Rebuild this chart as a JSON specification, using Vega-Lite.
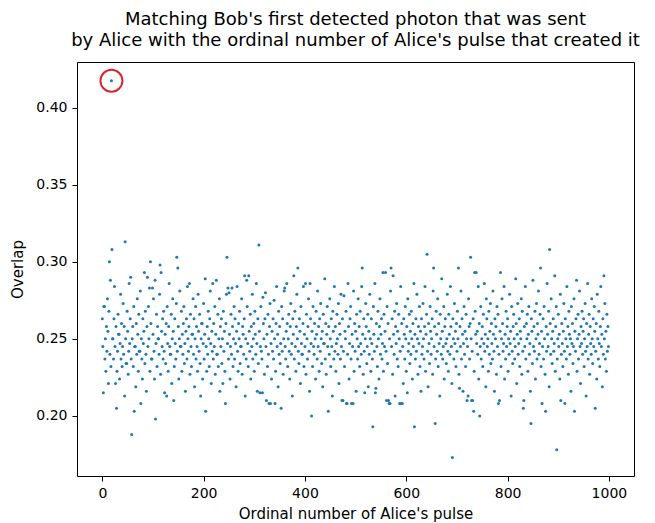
{
"$schema": "https://vega.github.io/schema/vega-lite/v6.json",
"autosize": {"type": "none"},
"padding": {"left": 77, "top": 62, "right": 21, "bottom": 47},
"width": 557,
"height": 414,
"background": "white",
"title": {"text": ["Matching Bob's first detected photon that was sent", "by Alice with the ordinal number of Alice's pulse that created it"], "font": "DejaVu Sans", "fontSize": 18, "fontWeight": "normal", "color": "black", "anchor": "middle", "frame": "group", "offset": 12, "lineHeight": 21},
"config": {
"view": {"stroke": "black", "strokeWidth": 1},
"axis": {"domain": false, "grid": false, "tickColor": "black", "tickSize": 5, "tickWidth": 1, "labelPadding": 5, "labelFont": "DejaVu Sans", "labelFontSize": 14, "labelColor": "black", "titleFont": "DejaVu Sans", "titleFontSize": 15, "titleFontWeight": "normal", "titleColor": "black"}
},
"data": {"values": [
{"x":0,"y":0.263},{"x":1,"y":0.245},{"x":2,"y":0.215},{"x":3,"y":0.271},{"x":4,"y":0.271},{"x":5,"y":0.237},{"x":6,"y":0.250},{"x":7,"y":0.229},{"x":8,"y":0.258},{"x":9,"y":0.242},
{"x":10,"y":0.276},{"x":11,"y":0.255},{"x":12,"y":0.221},{"x":13,"y":0.268},{"x":14,"y":0.300},{"x":15,"y":0.240},{"x":16,"y":0.288},{"x":17,"y":0.232},{"x":18,"y":0.4175},{"x":19,"y":0.308},
{"x":20,"y":0.250},{"x":21,"y":0.250},{"x":22,"y":0.237},{"x":23,"y":0.263},{"x":24,"y":0.284},{"x":25,"y":0.245},{"x":26,"y":0.221},{"x":27,"y":0.258},{"x":28,"y":0.205},{"x":29,"y":0.229},
{"x":30,"y":0.242},{"x":31,"y":0.266},{"x":32,"y":0.253},{"x":33,"y":0.253},{"x":34,"y":0.224},{"x":35,"y":0.247},{"x":36,"y":0.279},{"x":37,"y":0.237},{"x":38,"y":0.260},{"x":39,"y":0.232},
{"x":40,"y":0.245},{"x":41,"y":0.273},{"x":42,"y":0.240},{"x":43,"y":0.258},{"x":44,"y":0.213},{"x":45,"y":0.313},{"x":46,"y":0.250},{"x":47,"y":0.234},{"x":48,"y":0.234},{"x":49,"y":0.268},
{"x":50,"y":0.255},{"x":51,"y":0.227},{"x":52,"y":0.242},{"x":53,"y":0.286},{"x":54,"y":0.247},{"x":55,"y":0.263},{"x":56,"y":0.290},{"x":57,"y":0.237},{"x":58,"y":0.188},{"x":59,"y":0.250},
{"x":60,"y":0.258},{"x":61,"y":0.232},{"x":62,"y":0.271},{"x":63,"y":0.203},{"x":64,"y":0.245},{"x":65,"y":0.245},{"x":66,"y":0.219},{"x":67,"y":0.260},{"x":68,"y":0.240},{"x":69,"y":0.276},
{"x":70,"y":0.253},{"x":71,"y":0.229},{"x":72,"y":0.266},{"x":73,"y":0.242},{"x":74,"y":0.242},{"x":75,"y":0.281},{"x":76,"y":0.208},{"x":77,"y":0.250},{"x":78,"y":0.237},{"x":79,"y":0.224},
{"x":80,"y":0.263},{"x":81,"y":0.247},{"x":82,"y":0.255},{"x":83,"y":0.293},{"x":84,"y":0.234},{"x":85,"y":0.268},{"x":86,"y":0.240},{"x":87,"y":0.216},{"x":88,"y":0.258},{"x":89,"y":0.290},
{"x":90,"y":0.245},{"x":91,"y":0.271},{"x":92,"y":0.250},{"x":93,"y":0.283},{"x":94,"y":0.229},{"x":95,"y":0.300},{"x":96,"y":0.260},{"x":97,"y":0.237},{"x":98,"y":0.237},{"x":99,"y":0.283},
{"x":100,"y":0.253},{"x":101,"y":0.276},{"x":102,"y":0.242},{"x":103,"y":0.224},{"x":104,"y":0.288},{"x":105,"y":0.198},{"x":106,"y":0.247},{"x":107,"y":0.266},{"x":108,"y":0.232},{"x":109,"y":0.258},
{"x":110,"y":0.250},{"x":111,"y":0.250},{"x":112,"y":0.240},{"x":113,"y":0.279},{"x":114,"y":0.298},{"x":115,"y":0.227},{"x":116,"y":0.293},{"x":117,"y":0.255},{"x":118,"y":0.245},{"x":119,"y":0.263},
{"x":120,"y":0.237},{"x":121,"y":0.268},{"x":122,"y":0.242},{"x":123,"y":0.215},{"x":124,"y":0.253},{"x":125,"y":0.234},{"x":126,"y":0.260},{"x":127,"y":0.213},{"x":128,"y":0.271},{"x":129,"y":0.247},
{"x":130,"y":0.229},{"x":131,"y":0.258},{"x":132,"y":0.286},{"x":133,"y":0.245},{"x":134,"y":0.240},{"x":135,"y":0.240},{"x":136,"y":0.266},{"x":137,"y":0.221},{"x":138,"y":0.250},{"x":139,"y":0.276},
{"x":140,"y":0.255},{"x":141,"y":0.210},{"x":142,"y":0.232},{"x":143,"y":0.263},{"x":144,"y":0.247},{"x":145,"y":0.237},{"x":146,"y":0.273},{"x":147,"y":0.303},{"x":148,"y":0.242},{"x":149,"y":0.296},
{"x":150,"y":0.258},{"x":151,"y":0.224},{"x":152,"y":0.250},{"x":153,"y":0.281},{"x":154,"y":0.245},{"x":155,"y":0.245},{"x":156,"y":0.268},{"x":157,"y":0.229},{"x":158,"y":0.253},{"x":159,"y":0.240},
{"x":160,"y":0.260},{"x":161,"y":0.271},{"x":162,"y":0.234},{"x":163,"y":0.247},{"x":164,"y":0.216},{"x":165,"y":0.255},{"x":166,"y":0.263},{"x":167,"y":0.237},{"x":168,"y":0.284},{"x":169,"y":0.250},
{"x":170,"y":0.242},{"x":171,"y":0.258},{"x":172,"y":0.286},{"x":173,"y":0.227},{"x":174,"y":0.266},{"x":175,"y":0.245},{"x":176,"y":0.232},{"x":177,"y":0.253},{"x":178,"y":0.253},{"x":179,"y":0.276},
{"x":180,"y":0.240},{"x":181,"y":0.263},{"x":182,"y":0.219},{"x":183,"y":0.250},{"x":184,"y":0.271},{"x":185,"y":0.237},{"x":186,"y":0.258},{"x":187,"y":0.245},{"x":188,"y":0.229},{"x":189,"y":0.279},
{"x":190,"y":0.255},{"x":191,"y":0.242},{"x":192,"y":0.266},{"x":193,"y":0.234},{"x":194,"y":0.213},{"x":195,"y":0.250},{"x":196,"y":0.260},{"x":197,"y":0.260},{"x":198,"y":0.224},{"x":199,"y":0.247},
{"x":200,"y":0.273},{"x":201,"y":0.237},{"x":202,"y":0.253},{"x":203,"y":0.289},{"x":204,"y":0.203},{"x":205,"y":0.245},{"x":206,"y":0.229},{"x":207,"y":0.258},{"x":208,"y":0.240},{"x":209,"y":0.268},
{"x":210,"y":0.250},{"x":211,"y":0.232},{"x":212,"y":0.263},{"x":213,"y":0.281},{"x":214,"y":0.247},{"x":215,"y":0.221},{"x":216,"y":0.255},{"x":217,"y":0.242},{"x":218,"y":0.286},{"x":219,"y":0.237},
{"x":220,"y":0.260},{"x":221,"y":0.245},{"x":222,"y":0.271},{"x":223,"y":0.227},{"x":224,"y":0.253},{"x":225,"y":0.288},{"x":226,"y":0.240},{"x":227,"y":0.240},{"x":228,"y":0.266},{"x":229,"y":0.232},
{"x":230,"y":0.250},{"x":231,"y":0.276},{"x":232,"y":0.216},{"x":233,"y":0.258},{"x":234,"y":0.245},{"x":235,"y":0.263},{"x":236,"y":0.234},{"x":237,"y":0.250},{"x":238,"y":0.221},{"x":239,"y":0.268},
{"x":240,"y":0.242},{"x":241,"y":0.255},{"x":242,"y":0.229},{"x":243,"y":0.208},{"x":244,"y":0.260},{"x":245,"y":0.279},{"x":246,"y":0.303},{"x":247,"y":0.247},{"x":248,"y":0.283},{"x":249,"y":0.237},
{"x":250,"y":0.280},{"x":251,"y":0.253},{"x":252,"y":0.224},{"x":253,"y":0.245},{"x":254,"y":0.266},{"x":255,"y":0.240},{"x":256,"y":0.283},{"x":257,"y":0.258},{"x":258,"y":0.232},{"x":259,"y":0.250},
{"x":260,"y":0.271},{"x":261,"y":0.237},{"x":262,"y":0.263},{"x":263,"y":0.247},{"x":264,"y":0.219},{"x":265,"y":0.255},{"x":266,"y":0.284},{"x":267,"y":0.242},{"x":268,"y":0.229},{"x":269,"y":0.260},
{"x":270,"y":0.250},{"x":271,"y":0.268},{"x":272,"y":0.234},{"x":273,"y":0.245},{"x":274,"y":0.245},{"x":275,"y":0.276},{"x":276,"y":0.227},{"x":277,"y":0.258},{"x":278,"y":0.253},{"x":279,"y":0.240},
{"x":280,"y":0.263},{"x":281,"y":0.291},{"x":282,"y":0.213},{"x":283,"y":0.250},{"x":284,"y":0.237},{"x":285,"y":0.288},{"x":286,"y":0.271},{"x":287,"y":0.247},{"x":288,"y":0.232},{"x":289,"y":0.291},
{"x":290,"y":0.255},{"x":291,"y":0.242},{"x":292,"y":0.266},{"x":293,"y":0.224},{"x":294,"y":0.258},{"x":295,"y":0.245},{"x":296,"y":0.279},{"x":297,"y":0.237},{"x":298,"y":0.250},{"x":299,"y":0.260},
{"x":300,"y":0.229},{"x":301,"y":0.268},{"x":302,"y":0.253},{"x":303,"y":0.240},{"x":304,"y":0.286},{"x":305,"y":0.247},{"x":306,"y":0.216},{"x":307,"y":0.263},{"x":308,"y":0.234},{"x":309,"y":0.311},
{"x":310,"y":0.255},{"x":311,"y":0.215},{"x":312,"y":0.245},{"x":313,"y":0.271},{"x":314,"y":0.242},{"x":315,"y":0.237},{"x":316,"y":0.215},{"x":317,"y":0.277},{"x":318,"y":0.260},{"x":319,"y":0.250},
{"x":320,"y":0.227},{"x":321,"y":0.263},{"x":322,"y":0.280},{"x":323,"y":0.245},{"x":324,"y":0.210},{"x":325,"y":0.253},{"x":326,"y":0.232},{"x":327,"y":0.266},{"x":328,"y":0.240},{"x":329,"y":0.208},
{"x":330,"y":0.258},{"x":331,"y":0.273},{"x":332,"y":0.208},{"x":333,"y":0.247},{"x":334,"y":0.224},{"x":335,"y":0.255},{"x":336,"y":0.242},{"x":337,"y":0.263},{"x":338,"y":0.237},{"x":339,"y":0.275},
{"x":340,"y":0.250},{"x":341,"y":0.208},{"x":342,"y":0.229},{"x":343,"y":0.260},{"x":344,"y":0.284},{"x":345,"y":0.245},{"x":346,"y":0.253},{"x":347,"y":0.219},{"x":348,"y":0.268},{"x":349,"y":0.240},
{"x":350,"y":0.258},{"x":351,"y":0.234},{"x":352,"y":0.247},{"x":353,"y":0.205},{"x":354,"y":0.271},{"x":355,"y":0.242},{"x":356,"y":0.263},{"x":357,"y":0.227},{"x":358,"y":0.250},{"x":359,"y":0.281},
{"x":360,"y":0.283},{"x":361,"y":0.245},{"x":362,"y":0.237},{"x":363,"y":0.255},{"x":364,"y":0.286},{"x":365,"y":0.260},{"x":366,"y":0.232},{"x":367,"y":0.250},{"x":368,"y":0.266},{"x":369,"y":0.242},
{"x":370,"y":0.224},{"x":371,"y":0.258},{"x":372,"y":0.273},{"x":373,"y":0.240},{"x":374,"y":0.247},{"x":375,"y":0.213},{"x":376,"y":0.263},{"x":377,"y":0.253},{"x":378,"y":0.291},{"x":379,"y":0.237},
{"x":380,"y":0.268},{"x":381,"y":0.245},{"x":382,"y":0.229},{"x":383,"y":0.258},{"x":384,"y":0.279},{"x":385,"y":0.250},{"x":386,"y":0.296},{"x":387,"y":0.242},{"x":388,"y":0.234},{"x":389,"y":0.263},
{"x":390,"y":0.255},{"x":391,"y":0.221},{"x":392,"y":0.271},{"x":393,"y":0.247},{"x":394,"y":0.240},{"x":395,"y":0.240},{"x":396,"y":0.260},{"x":397,"y":0.284},{"x":398,"y":0.232},{"x":399,"y":0.253},
{"x":400,"y":0.245},{"x":401,"y":0.286},{"x":402,"y":0.227},{"x":403,"y":0.266},{"x":404,"y":0.250},{"x":405,"y":0.237},{"x":406,"y":0.258},{"x":407,"y":0.276},{"x":408,"y":0.242},{"x":409,"y":0.216},
{"x":410,"y":0.286},{"x":411,"y":0.263},{"x":412,"y":0.247},{"x":413,"y":0.200},{"x":414,"y":0.255},{"x":415,"y":0.232},{"x":416,"y":0.271},{"x":417,"y":0.245},{"x":418,"y":0.240},{"x":419,"y":0.260},
{"x":420,"y":0.250},{"x":421,"y":0.224},{"x":422,"y":0.268},{"x":423,"y":0.253},{"x":424,"y":0.237},{"x":425,"y":0.281},{"x":426,"y":0.245},{"x":427,"y":0.258},{"x":428,"y":0.229},{"x":429,"y":0.263},
{"x":430,"y":0.242},{"x":431,"y":0.273},{"x":432,"y":0.250},{"x":433,"y":0.234},{"x":434,"y":0.255},{"x":435,"y":0.219},{"x":436,"y":0.266},{"x":437,"y":0.247},{"x":438,"y":0.247},{"x":439,"y":0.289},
{"x":440,"y":0.237},{"x":441,"y":0.260},{"x":442,"y":0.227},{"x":443,"y":0.253},{"x":444,"y":0.271},{"x":445,"y":0.245},{"x":446,"y":0.203},{"x":447,"y":0.258},{"x":448,"y":0.240},{"x":449,"y":0.276},
{"x":450,"y":0.250},{"x":451,"y":0.232},{"x":452,"y":0.263},{"x":453,"y":0.245},{"x":454,"y":0.213},{"x":455,"y":0.268},{"x":456,"y":0.255},{"x":457,"y":0.237},{"x":458,"y":0.284},{"x":459,"y":0.242},
{"x":460,"y":0.258},{"x":461,"y":0.229},{"x":462,"y":0.247},{"x":463,"y":0.266},{"x":464,"y":0.250},{"x":465,"y":0.240},{"x":466,"y":0.273},{"x":467,"y":0.221},{"x":468,"y":0.260},{"x":469,"y":0.253},
{"x":470,"y":0.237},{"x":471,"y":0.279},{"x":472,"y":0.245},{"x":473,"y":0.210},{"x":474,"y":0.263},{"x":475,"y":0.210},{"x":476,"y":0.242},{"x":477,"y":0.278},{"x":478,"y":0.232},{"x":479,"y":0.255},
{"x":480,"y":0.250},{"x":481,"y":0.268},{"x":482,"y":0.208},{"x":483,"y":0.208},{"x":484,"y":0.240},{"x":485,"y":0.286},{"x":486,"y":0.258},{"x":487,"y":0.224},{"x":488,"y":0.247},{"x":489,"y":0.263},
{"x":490,"y":0.271},{"x":491,"y":0.237},{"x":492,"y":0.208},{"x":493,"y":0.253},{"x":494,"y":0.245},{"x":495,"y":0.208},{"x":496,"y":0.281},{"x":497,"y":0.229},{"x":498,"y":0.260},{"x":499,"y":0.242},
{"x":500,"y":0.255},{"x":501,"y":0.216},{"x":502,"y":0.266},{"x":503,"y":0.250},{"x":504,"y":0.237},{"x":505,"y":0.276},{"x":506,"y":0.245},{"x":507,"y":0.258},{"x":508,"y":0.232},{"x":509,"y":0.268},
{"x":510,"y":0.247},{"x":511,"y":0.240},{"x":512,"y":0.284},{"x":513,"y":0.296},{"x":514,"y":0.253},{"x":515,"y":0.227},{"x":516,"y":0.263},{"x":517,"y":0.242},{"x":518,"y":0.215},{"x":519,"y":0.250},
{"x":520,"y":0.273},{"x":521,"y":0.258},{"x":522,"y":0.234},{"x":523,"y":0.245},{"x":524,"y":0.266},{"x":525,"y":0.219},{"x":526,"y":0.255},{"x":527,"y":0.240},{"x":528,"y":0.279},{"x":529,"y":0.250},
{"x":530,"y":0.229},{"x":531,"y":0.263},{"x":532,"y":0.247},{"x":533,"y":0.237},{"x":534,"y":0.193},{"x":535,"y":0.271},{"x":536,"y":0.253},{"x":537,"y":0.242},{"x":538,"y":0.286},{"x":539,"y":0.215},
{"x":540,"y":0.218},{"x":541,"y":0.260},{"x":542,"y":0.245},{"x":543,"y":0.232},{"x":544,"y":0.268},{"x":545,"y":0.250},{"x":546,"y":0.224},{"x":547,"y":0.258},{"x":548,"y":0.276},{"x":549,"y":0.240},
{"x":550,"y":0.253},{"x":551,"y":0.263},{"x":552,"y":0.237},{"x":553,"y":0.247},{"x":554,"y":0.293},{"x":555,"y":0.229},{"x":556,"y":0.266},{"x":557,"y":0.245},{"x":558,"y":0.255},{"x":559,"y":0.293},
{"x":560,"y":0.242},{"x":561,"y":0.210},{"x":562,"y":0.271},{"x":563,"y":0.234},{"x":564,"y":0.260},{"x":565,"y":0.210},{"x":566,"y":0.208},{"x":567,"y":0.250},{"x":568,"y":0.208},{"x":569,"y":0.281},
{"x":570,"y":0.296},{"x":571,"y":0.245},{"x":572,"y":0.263},{"x":573,"y":0.227},{"x":574,"y":0.291},{"x":575,"y":0.253},{"x":576,"y":0.240},{"x":577,"y":0.268},{"x":578,"y":0.213},{"x":579,"y":0.258},
{"x":580,"y":0.247},{"x":581,"y":0.273},{"x":582,"y":0.237},{"x":583,"y":0.255},{"x":584,"y":0.232},{"x":585,"y":0.266},{"x":586,"y":0.250},{"x":587,"y":0.208},{"x":588,"y":0.242},{"x":589,"y":0.284},
{"x":590,"y":0.208},{"x":591,"y":0.260},{"x":592,"y":0.208},{"x":593,"y":0.245},{"x":594,"y":0.221},{"x":595,"y":0.263},{"x":596,"y":0.253},{"x":597,"y":0.237},{"x":598,"y":0.271},{"x":599,"y":0.250},
{"x":600,"y":0.229},{"x":601,"y":0.258},{"x":602,"y":0.215},{"x":603,"y":0.276},{"x":604,"y":0.242},{"x":605,"y":0.247},{"x":606,"y":0.266},{"x":607,"y":0.234},{"x":608,"y":0.255},{"x":609,"y":0.240},
{"x":610,"y":0.268},{"x":611,"y":0.250},{"x":612,"y":0.224},{"x":613,"y":0.260},{"x":614,"y":0.245},{"x":615,"y":0.286},{"x":616,"y":0.193},{"x":617,"y":0.253},{"x":618,"y":0.237},{"x":619,"y":0.263},
{"x":620,"y":0.242},{"x":621,"y":0.279},{"x":622,"y":0.250},{"x":623,"y":0.227},{"x":624,"y":0.258},{"x":625,"y":0.247},{"x":626,"y":0.271},{"x":627,"y":0.232},{"x":628,"y":0.255},{"x":629,"y":0.216},
{"x":630,"y":0.263},{"x":631,"y":0.240},{"x":632,"y":0.245},{"x":633,"y":0.273},{"x":634,"y":0.250},{"x":635,"y":0.237},{"x":636,"y":0.258},{"x":637,"y":0.284},{"x":638,"y":0.229},{"x":639,"y":0.253},
{"x":640,"y":0.266},{"x":641,"y":0.305},{"x":642,"y":0.242},{"x":643,"y":0.219},{"x":644,"y":0.260},{"x":645,"y":0.247},{"x":646,"y":0.234},{"x":647,"y":0.271},{"x":648,"y":0.255},{"x":649,"y":0.240},
{"x":650,"y":0.250},{"x":651,"y":0.263},{"x":652,"y":0.227},{"x":653,"y":0.281},{"x":654,"y":0.296},{"x":655,"y":0.245},{"x":656,"y":0.258},{"x":657,"y":0.195},{"x":658,"y":0.237},{"x":659,"y":0.268},
{"x":660,"y":0.253},{"x":661,"y":0.242},{"x":662,"y":0.276},{"x":663,"y":0.232},{"x":664,"y":0.260},{"x":665,"y":0.247},{"x":666,"y":0.213},{"x":667,"y":0.266},{"x":668,"y":0.250},{"x":669,"y":0.240},
{"x":670,"y":0.289},{"x":671,"y":0.255},{"x":672,"y":0.237},{"x":673,"y":0.245},{"x":674,"y":0.271},{"x":675,"y":0.224},{"x":676,"y":0.258},{"x":677,"y":0.263},{"x":678,"y":0.247},{"x":679,"y":0.234},
{"x":680,"y":0.250},{"x":681,"y":0.279},{"x":682,"y":0.242},{"x":683,"y":0.229},{"x":684,"y":0.266},{"x":685,"y":0.253},{"x":686,"y":0.240},{"x":687,"y":0.284},{"x":688,"y":0.258},{"x":689,"y":0.245},
{"x":690,"y":0.221},{"x":691,"y":0.173},{"x":692,"y":0.263},{"x":693,"y":0.250},{"x":694,"y":0.237},{"x":695,"y":0.273},{"x":696,"y":0.247},{"x":697,"y":0.255},{"x":698,"y":0.232},{"x":699,"y":0.260},
{"x":700,"y":0.242},{"x":701,"y":0.268},{"x":702,"y":0.250},{"x":703,"y":0.296},{"x":704,"y":0.227},{"x":705,"y":0.218},{"x":706,"y":0.258},{"x":707,"y":0.245},{"x":708,"y":0.281},{"x":709,"y":0.237},
{"x":710,"y":0.263},{"x":711,"y":0.253},{"x":712,"y":0.216},{"x":713,"y":0.247},{"x":714,"y":0.271},{"x":715,"y":0.240},{"x":716,"y":0.255},{"x":717,"y":0.232},{"x":718,"y":0.266},{"x":719,"y":0.250},
{"x":720,"y":0.210},{"x":721,"y":0.245},{"x":722,"y":0.213},{"x":723,"y":0.276},{"x":724,"y":0.258},{"x":725,"y":0.237},{"x":726,"y":0.260},{"x":727,"y":0.303},{"x":728,"y":0.250},{"x":729,"y":0.210},
{"x":730,"y":0.242},{"x":731,"y":0.210},{"x":732,"y":0.263},{"x":733,"y":0.203},{"x":734,"y":0.229},{"x":735,"y":0.293},{"x":736,"y":0.268},{"x":737,"y":0.253},{"x":738,"y":0.293},{"x":739,"y":0.247},
{"x":740,"y":0.255},{"x":741,"y":0.240},{"x":742,"y":0.284},{"x":743,"y":0.224},{"x":744,"y":0.260},{"x":745,"y":0.200},{"x":746,"y":0.245},{"x":747,"y":0.271},{"x":748,"y":0.237},{"x":749,"y":0.250},
{"x":750,"y":0.258},{"x":751,"y":0.232},{"x":752,"y":0.266},{"x":753,"y":0.247},{"x":754,"y":0.286},{"x":755,"y":0.242},{"x":756,"y":0.253},{"x":757,"y":0.219},{"x":758,"y":0.276},{"x":759,"y":0.263},
{"x":760,"y":0.245},{"x":761,"y":0.250},{"x":762,"y":0.229},{"x":763,"y":0.268},{"x":764,"y":0.240},{"x":765,"y":0.255},{"x":766,"y":0.273},{"x":767,"y":0.234},{"x":768,"y":0.260},{"x":769,"y":0.247},
{"x":770,"y":0.237},{"x":771,"y":0.281},{"x":772,"y":0.253},{"x":773,"y":0.242},{"x":774,"y":0.216},{"x":775,"y":0.263},{"x":776,"y":0.250},{"x":777,"y":0.258},{"x":778,"y":0.227},{"x":779,"y":0.271},
{"x":780,"y":0.245},{"x":781,"y":0.266},{"x":782,"y":0.208},{"x":783,"y":0.240},{"x":784,"y":0.210},{"x":785,"y":0.255},{"x":786,"y":0.293},{"x":787,"y":0.232},{"x":788,"y":0.250},{"x":789,"y":0.276},
{"x":790,"y":0.260},{"x":791,"y":0.242},{"x":792,"y":0.247},{"x":793,"y":0.284},{"x":794,"y":0.224},{"x":795,"y":0.253},{"x":796,"y":0.237},{"x":797,"y":0.268},{"x":798,"y":0.245},{"x":799,"y":0.258},
{"x":800,"y":0.263},{"x":801,"y":0.229},{"x":802,"y":0.250},{"x":803,"y":0.240},{"x":804,"y":0.279},{"x":805,"y":0.247},{"x":806,"y":0.255},{"x":807,"y":0.213},{"x":808,"y":0.271},{"x":809,"y":0.242},
{"x":810,"y":0.234},{"x":811,"y":0.258},{"x":812,"y":0.266},{"x":813,"y":0.250},{"x":814,"y":0.237},{"x":815,"y":0.245},{"x":816,"y":0.289},{"x":817,"y":0.260},{"x":818,"y":0.221},{"x":819,"y":0.253},
{"x":820,"y":0.273},{"x":821,"y":0.240},{"x":822,"y":0.247},{"x":823,"y":0.263},{"x":824,"y":0.232},{"x":825,"y":0.255},{"x":826,"y":0.250},{"x":827,"y":0.276},{"x":828,"y":0.227},{"x":829,"y":0.268},
{"x":830,"y":0.242},{"x":831,"y":0.205},{"x":832,"y":0.210},{"x":833,"y":0.258},{"x":834,"y":0.245},{"x":835,"y":0.284},{"x":836,"y":0.237},{"x":837,"y":0.260},{"x":838,"y":0.250},{"x":839,"y":0.266},
{"x":840,"y":0.229},{"x":841,"y":0.253},{"x":842,"y":0.271},{"x":843,"y":0.240},{"x":844,"y":0.247},{"x":845,"y":0.216},{"x":846,"y":0.195},{"x":847,"y":0.263},{"x":848,"y":0.255},{"x":849,"y":0.234},
{"x":850,"y":0.288},{"x":851,"y":0.245},{"x":852,"y":0.258},{"x":853,"y":0.242},{"x":854,"y":0.268},{"x":855,"y":0.224},{"x":856,"y":0.250},{"x":857,"y":0.273},{"x":858,"y":0.237},{"x":859,"y":0.260},
{"x":860,"y":0.253},{"x":861,"y":0.281},{"x":862,"y":0.240},{"x":863,"y":0.247},{"x":864,"y":0.266},{"x":865,"y":0.296},{"x":866,"y":0.232},{"x":867,"y":0.255},{"x":868,"y":0.208},{"x":869,"y":0.245},
{"x":870,"y":0.263},{"x":871,"y":0.237},{"x":872,"y":0.271},{"x":873,"y":0.250},{"x":874,"y":0.227},{"x":875,"y":0.203},{"x":876,"y":0.258},{"x":877,"y":0.242},{"x":878,"y":0.286},{"x":879,"y":0.253},
{"x":880,"y":0.245},{"x":881,"y":0.268},{"x":882,"y":0.219},{"x":883,"y":0.308},{"x":884,"y":0.260},{"x":885,"y":0.240},{"x":886,"y":0.276},{"x":887,"y":0.250},{"x":888,"y":0.234},{"x":889,"y":0.255},
{"x":890,"y":0.263},{"x":891,"y":0.242},{"x":892,"y":0.247},{"x":893,"y":0.291},{"x":894,"y":0.229},{"x":895,"y":0.258},{"x":896,"y":0.271},{"x":897,"y":0.178},{"x":898,"y":0.237},{"x":899,"y":0.250},
{"x":900,"y":0.266},{"x":901,"y":0.245},{"x":902,"y":0.253},{"x":903,"y":0.224},{"x":904,"y":0.279},{"x":905,"y":0.210},{"x":906,"y":0.240},{"x":907,"y":0.260},{"x":908,"y":0.247},{"x":909,"y":0.232},
{"x":910,"y":0.255},{"x":911,"y":0.273},{"x":912,"y":0.242},{"x":913,"y":0.208},{"x":914,"y":0.263},{"x":915,"y":0.250},{"x":916,"y":0.237},{"x":917,"y":0.284},{"x":918,"y":0.245},{"x":919,"y":0.258},
{"x":920,"y":0.227},{"x":921,"y":0.268},{"x":922,"y":0.253},{"x":923,"y":0.240},{"x":924,"y":0.250},{"x":925,"y":0.216},{"x":926,"y":0.271},{"x":927,"y":0.247},{"x":928,"y":0.260},{"x":929,"y":0.234},
{"x":930,"y":0.245},{"x":931,"y":0.276},{"x":932,"y":0.203},{"x":933,"y":0.255},{"x":934,"y":0.242},{"x":935,"y":0.263},{"x":936,"y":0.288},{"x":937,"y":0.229},{"x":938,"y":0.250},{"x":939,"y":0.266},
{"x":940,"y":0.237},{"x":941,"y":0.253},{"x":942,"y":0.281},{"x":943,"y":0.245},{"x":944,"y":0.221},{"x":945,"y":0.258},{"x":946,"y":0.247},{"x":947,"y":0.268},{"x":948,"y":0.240},{"x":949,"y":0.255},
{"x":950,"y":0.263},{"x":951,"y":0.232},{"x":952,"y":0.250},{"x":953,"y":0.273},{"x":954,"y":0.242},{"x":955,"y":0.213},{"x":956,"y":0.260},{"x":957,"y":0.245},{"x":958,"y":0.286},{"x":959,"y":0.237},
{"x":960,"y":0.253},{"x":961,"y":0.266},{"x":962,"y":0.227},{"x":963,"y":0.258},{"x":964,"y":0.247},{"x":965,"y":0.240},{"x":966,"y":0.276},{"x":967,"y":0.250},{"x":968,"y":0.234},{"x":969,"y":0.263},
{"x":970,"y":0.245},{"x":971,"y":0.271},{"x":972,"y":0.255},{"x":973,"y":0.205},{"x":974,"y":0.242},{"x":975,"y":0.260},{"x":976,"y":0.224},{"x":977,"y":0.279},{"x":978,"y":0.250},{"x":979,"y":0.237},
{"x":980,"y":0.268},{"x":981,"y":0.247},{"x":982,"y":0.232},{"x":983,"y":0.258},{"x":984,"y":0.284},{"x":985,"y":0.245},{"x":986,"y":0.253},{"x":987,"y":0.219},{"x":988,"y":0.263},{"x":989,"y":0.240},
{"x":990,"y":0.291},{"x":991,"y":0.250},{"x":992,"y":0.273},{"x":993,"y":0.237},{"x":994,"y":0.255},{"x":995,"y":0.229},{"x":996,"y":0.266},{"x":997,"y":0.242},{"x":998,"y":0.258},{"x":999,"y":0.245}
]},
"encoding": {
"x": {"field": "x", "type": "quantitative", "scale": {"domain": [-50, 1049.5], "nice": false, "zero": false}, "axis": {"values": [0, 200, 400, 600, 800, 1000], "format": "d", "title": "Ordinal number of Alice's pulse", "titlePadding": 6}},
"y": {"field": "y", "type": "quantitative", "scale": {"domain": [0.161, 0.4297], "nice": false, "zero": false}, "axis": {"values": [0.20, 0.25, 0.30, 0.35, 0.40], "format": ".2f", "title": "Overlap", "titlePadding": 10}}
},
"layer": [
{"mark": {"type": "point", "filled": true, "shape": "circle", "size": 9, "color": "#1f77b4", "opacity": 1, "strokeWidth": 0}},
{"transform": [{"filter": "datum.x == 18"}], "mark": {"type": "point", "filled": false, "shape": "circle", "size": 484, "color": "#d62728", "opacity": 1, "strokeWidth": 2}}
]
}
